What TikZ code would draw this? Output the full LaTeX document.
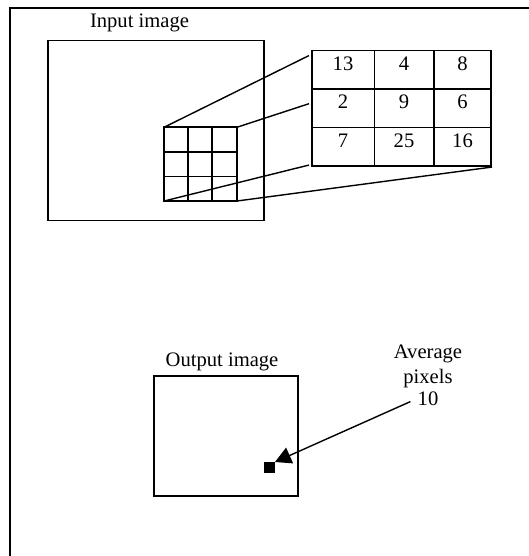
\documentclass[tikz,border=0pt]{standalone}
\usepackage{fontspec}
\setmainfont{Liberation Serif}
\usetikzlibrary{arrows.meta}
\begin{document}
\begin{tikzpicture}[x=1pt, y=-1pt, line width=1.8pt,
    lbl/.style={font=\fontsize{20.6}{24}\selectfont, inner sep=0pt, anchor=base},
    frame/.style={draw, inner sep=0pt, outer sep=0pt},
    zoomline/.style={line width=1.4pt}]
\useasboundingbox (0,0) rectangle (528,556);
% page frame
\draw[line width=1.6pt] (10,8) rectangle (540,570);

% input image and its 3x3 window
\node[frame, minimum width=216pt, minimum height=180pt] (in) at (156.2,130.5) {};
\node[lbl] (inlbl) at (139.5,27.6) {Input image};
\node[frame, minimum width=72.7pt, minimum height=73.7pt] (win) at (200.3,164.2) {};
\foreach \x in {188,212.2} \draw (\x,127.3) -- (\x,201);
\foreach \y in {151.9,176.4} \draw (163.9,\y) -- (236.6,\y);

% enlarged window
\node[frame, minimum width=179pt, minimum height=115.5pt] (big) at (401.5,108.3) {};
\foreach \x in {374.4,433.7} \draw (\x,50.5) -- (\x,166);
\foreach \y in {89.3,127.6} \draw (312,\y) -- (491,\y);
\foreach \a/\b/\c [count=\r from 0] in {13/4/8, 2/9/6, 7/25/16}{
  \node[lbl] (n\r a) at (343,70.5+\r*38.5) {\a};
  \node[lbl] (n\r b) at (404,70.5+\r*38.5) {\b};
  \node[lbl] (n\r c) at (462.5,70.5+\r*38.5) {\c};
}
\draw[zoomline] (win.north west) -- ([xshift=-3pt,yshift=-5pt]big.north west);
\draw[zoomline] (win.north east) -- ([xshift=-3pt,yshift=4.6pt]big.west);
\draw[zoomline] (win.south west) -- ([xshift=-3pt,yshift=1pt]big.south west);
\draw[zoomline] (win.south east) -- ([xshift=1pt,yshift=-1pt]big.south east);

% output image
\node[frame, minimum width=144.3pt, minimum height=120pt] (out) at (226.2,436) {};
\node[lbl] (outlbl) at (222,366) {Output image};
\node[fill, minimum size=11pt, inner sep=0pt, outer sep=0pt] (px) at (269.5,467.5) {};
\node[lbl] (avg) at (428,358) {Average};
\node[lbl] (pix) at (428,383) {pixels};
\node[lbl] (val) at (428,405.5) {10};
\draw[-{Triangle[length=16pt,width=17pt]}, zoomline, shorten <=7pt] (val.west) -- (px.north east);
\end{tikzpicture}
\end{document}
